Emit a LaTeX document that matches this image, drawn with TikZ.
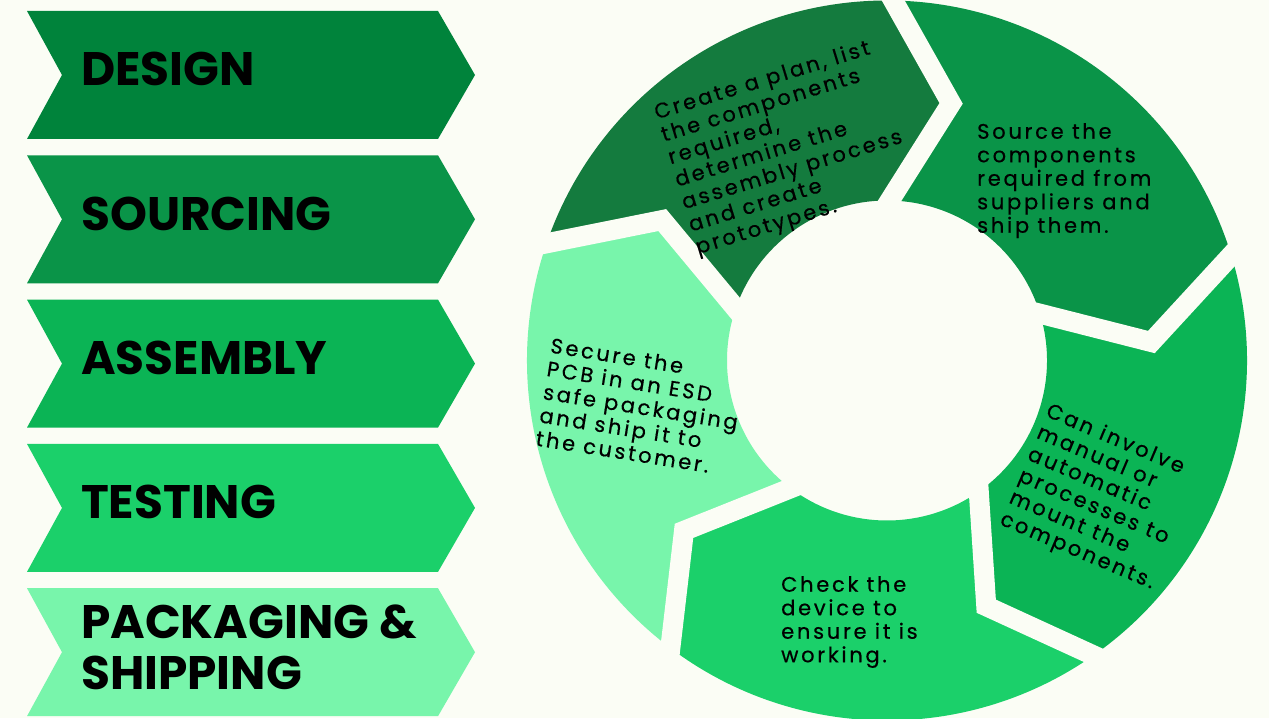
\documentclass[tikz,border=0pt]{standalone}
\usepackage{fontspec}
\setmainfont{Poppins}
\newfontfamily\headfont{Poppins}
\newfontfamily\bodyfont{Poppins}[LetterSpace=13, FakeBold=0.5]
\usetikzlibrary{calc}
\definecolor{bg}{RGB}{251,253,245}
\definecolor{cA}{RGB}{0,131,59}
\definecolor{cAr}{RGB}{20,123,62}
\definecolor{cB}{RGB}{10,148,72}
\definecolor{cC}{RGB}{11,180,85}
\definecolor{cD}{RGB}{27,208,106}
\definecolor{cE}{RGB}{120,245,171}
\tikzset{
  headtxt/.style={anchor=base west, inner sep=0pt, font=\headfont\bfseries\fontsize{47}{51}\selectfont, text=black, align=left},
  bodytxt/.style={anchor=north west, inner sep=0pt, font=\bodyfont\fontsize{21}{23.5}\selectfont, text=black, align=left},
  gapline/.style={draw=bg, line width=20pt, line join=miter, line cap=butt}
}
\begin{document}
\begin{tikzpicture}[x=1pt,y=1pt]
\useasboundingbox (0,0) rectangle (1269,718);
\fill[bg] (0,0) rectangle (1269,718);

% ---------- left arrows ----------
\foreach \k/\c in {0/cA,1/cB,2/cC,3/cD,4/cE}{
  \pgfmathsetmacro{\yt}{718-11-144.3*\k}
  \pgfmathsetmacro{\ym}{\yt-64}
  \pgfmathsetmacro{\yb}{\yt-128}
  \fill[\c] (27,\yt) -- (438,\yt) -- (475,\ym) -- (438,\yb) -- (27,\yb) -- (62,\ym) -- cycle;
}
\node[headtxt] (h1) at (81,{718-11-64-11}) {DESIGN};
\node[headtxt] (h2) at (81,{718-11-144.3-64-11}) {SOURCING};
\node[headtxt] (h3) at (81,{718-11-2*144.3-64-11}) {ASSEMBLY};
\node[headtxt] (h4) at (81,{718-11-3*144.3-64-11}) {TESTING};
\node[headtxt, anchor=north west] (h5) at (81,{718-605}) {PACKAGING \&\\SHIPPING};

% ---------- ring ----------
\coordinate (O) at (887,357.5);
\foreach \i/\b in {0/161,1/89,2/17,3/-55,4/-127}{
  \coordinate (o\i) at ($(O)+(\b:360)$);
  \coordinate (m\i) at ($(O)+(\b-13:265)$);
  \coordinate (n\i) at ($(O)+(\b:160)$);
}
\fill[cAr] (o0) arc[start angle=161, end angle=89, radius=360] -- (m1) -- (n1)
  arc[start angle=89, end angle=161, radius=160] -- (m0) -- cycle;
\fill[cB] (o1) arc[start angle=89, end angle=17, radius=360] -- (m2) -- (n2)
  arc[start angle=17, end angle=89, radius=160] -- (m1) -- cycle;
\fill[cC] (o2) arc[start angle=17, end angle=-55, radius=360] -- (m3) -- (n3)
  arc[start angle=-55, end angle=17, radius=160] -- (m2) -- cycle;
\fill[cD] (o3) arc[start angle=-55, end angle=-127, radius=360] -- (m4) -- (n4)
  arc[start angle=-127, end angle=-55, radius=160] -- (m3) -- cycle;
\fill[cE] (o4) arc[start angle=-127, end angle=-199, radius=360] -- (m0) -- (n0)
  arc[start angle=-199, end angle=-127, radius=160] -- (m4) -- cycle;
\foreach \i in {0,...,4}{
  \path[gapline] ($(m\i)!1.25!(o\i)$) -- (m\i) -- ($(m\i)!1.4!(n\i)$);
}

% ---------- ring texts ----------
\node[bodytxt, rotate=17] (dtxt) at (652,614) {Create a plan, list\\the components\\required,\\determine the\\assembly process\\and create\\prototypes.};
\node[bodytxt] (stxt) at (977,595) {Source the\\components\\required from\\suppliers and\\ship them.};
\node[bodytxt, rotate=-23] (atxt) at (1051,317) {Can involve\\manual or\\automatic\\processes to\\mount the\\components.};
\node[bodytxt] (ttxt) at (781,142) {Check the\\device to\\ensure it is\\working.};
\node[bodytxt, rotate=-9] (ptxt) at (552,381) {Secure the\\PCB in an ESD\\safe packaging\\and ship it to\\the customer.};
\end{tikzpicture}
\end{document}
